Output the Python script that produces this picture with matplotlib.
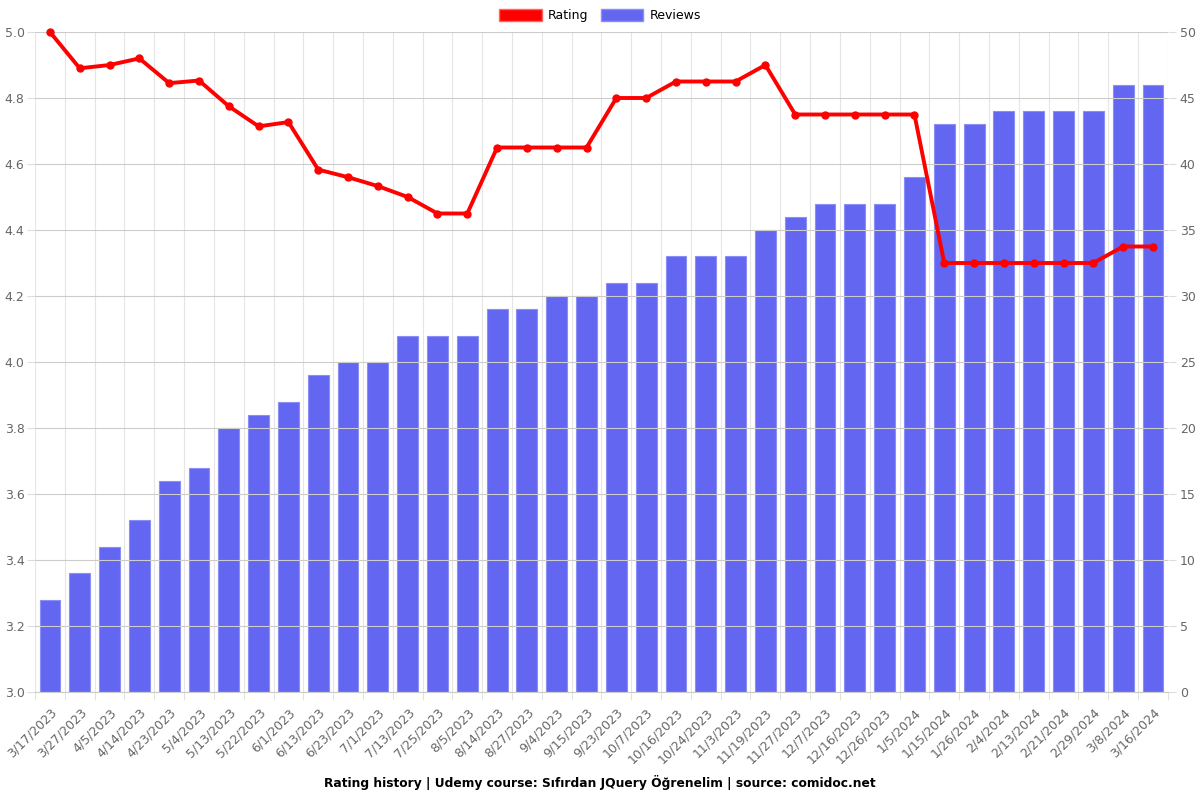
import matplotlib
matplotlib.use('Agg')
import matplotlib.pyplot as plt
import numpy as np
from matplotlib.patches import Patch

dates = ['3/17/2023', '3/27/2023', '4/5/2023', '4/14/2023', '4/23/2023', '5/4/2023',
         '5/13/2023', '5/22/2023', '6/1/2023', '6/13/2023', '6/23/2023', '7/1/2023',
         '7/13/2023', '7/25/2023', '8/5/2023', '8/14/2023', '8/27/2023', '9/4/2023',
         '9/15/2023', '9/23/2023', '10/7/2023', '10/16/2023', '10/24/2023', '11/3/2023',
         '11/19/2023', '11/27/2023', '12/7/2023', '12/16/2023', '12/26/2023', '1/5/2024',
         '1/15/2024', '1/26/2024', '2/4/2024', '2/13/2024', '2/21/2024', '2/29/2024',
         '3/8/2024', '3/16/2024']
reviews = [7, 9, 11, 13, 16, 17, 20, 21, 22, 24, 25, 25, 27, 27, 27, 29, 29, 30, 30,
           31, 31, 33, 33, 33, 35, 36, 37, 37, 37, 39, 43, 43, 44, 44, 44, 44, 46, 46]
rating = [5.0, 4.89, 4.9, 4.92, 4.845, 4.853, 4.775, 4.714, 4.727, 4.583, 4.56, 4.533,
          4.5, 4.45, 4.45, 4.65, 4.65, 4.65, 4.65, 4.8, 4.8, 4.85, 4.85, 4.85, 4.9,
          4.75, 4.75, 4.75, 4.75, 4.75, 4.3, 4.3, 4.3, 4.3, 4.3, 4.3, 4.35, 4.35]

grey = '#666666'
x = np.arange(len(dates))

fig = plt.figure(figsize=(12, 8), dpi=100)
ax = fig.add_axes([0.0292, 0.135, 0.944, 0.825])
ax2 = ax.twinx()

# bars on the right axis, line on the left axis drawn on top
ax2.bar(x, reviews, width=0.7, color='#6366f1', edgecolor='#8b8ef5', linewidth=0.8, zorder=2)
ax2.set_ylim(0, 50)
ax2.set_yticks(range(0, 51, 5))
ax.set_zorder(ax2.get_zorder() + 1)
ax.patch.set_visible(False)

ax.plot(x, rating, color='#ff0000', linewidth=2.8, marker='o', markersize=5, zorder=5,
        clip_on=False)
ax.set_ylim(3.0, 5.0)
ax.set_yticks(np.arange(3.0, 5.01, 0.2))
ax.set_yticklabels([f'{v:.1f}' for v in np.arange(3.0, 5.01, 0.2)])
ax.set_xlim(-0.5, len(dates) - 0.5)

ax.set_xticks(x)
ax.set_xticklabels(dates, rotation=45, ha='right', rotation_mode='anchor')
ax.set_xticks(np.arange(-0.5, len(dates), 1), minor=True)
ax.tick_params(axis='x', which='major', length=0, pad=10, colors=grey, labelsize=9)
ax.tick_params(axis='x', which='minor', length=6, color='#dddddd')
ax.tick_params(axis='y', length=5.5, pad=2, color='#dddddd', colors=grey, labelsize=9)
ax2.tick_params(axis='y', length=5.5, pad=3, color='#dddddd', colors=grey, labelsize=9)

ax2.grid(False)
ax.grid(True, axis='y', color='#cccccc', linewidth=0.8)
ax.grid(True, axis='x', which='minor', color='#e5e5e5', linewidth=0.8)
for a in (ax, ax2):
    for s in a.spines.values():
        s.set_visible(False)
ax.spines['bottom'].set_visible(True)
ax.spines['bottom'].set_color('#cccccc')

handles = [Patch(facecolor='#ff0000', edgecolor='#ff6666'),
           Patch(facecolor='#6366f1', edgecolor='#8b8ef5')]
fig.legend(handles, ['Rating', 'Reviews'], loc='upper center', ncol=2, frameon=False,
           bbox_to_anchor=(0.5, 1.003), handlelength=3.4, handleheight=1.1,
           fontsize=9, columnspacing=1.0, handletextpad=0.5)

fig.text(0.5, 0.022, 'Rating history | Udemy course: Sıfırdan JQuery Öğrenelim | source: comidoc.net',
         ha='center', va='center', fontweight='bold', fontsize=8.8)

fig.savefig('out.png')
